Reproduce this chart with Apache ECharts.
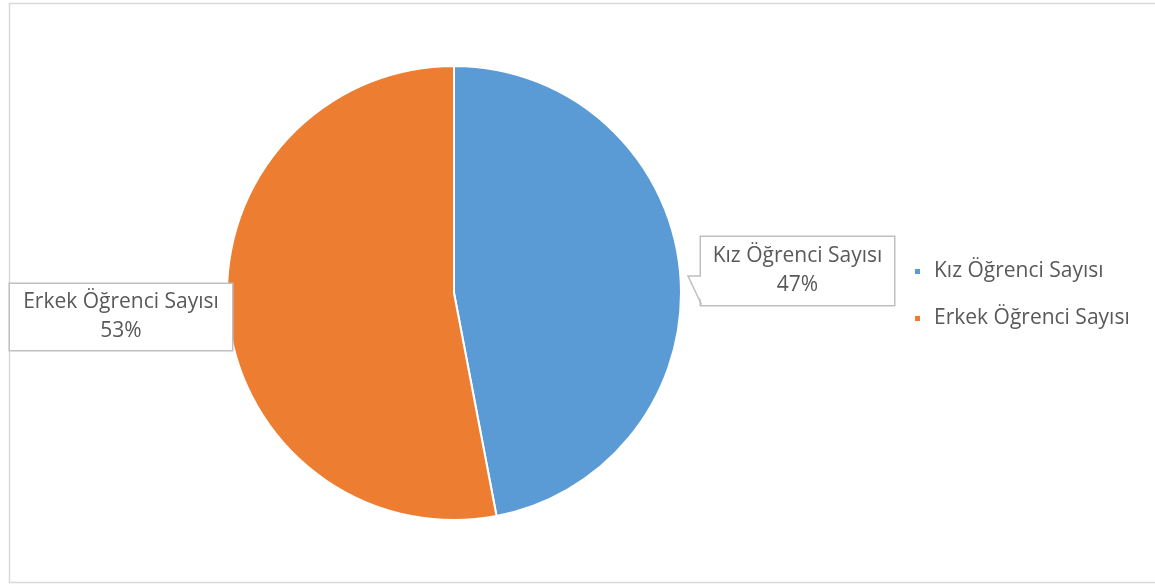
<!DOCTYPE html>
<html>
<head>
<meta charset="utf-8">
<script src="https://cdn.jsdelivr.net/npm/echarts@6/dist/echarts.min.js"></script>
<style>
  html, body { margin: 0; padding: 0; background: #fff; }
  #chart { width: 1155px; height: 584px; }
</style>
</head>
<body>
<div id="chart"></div>
<script>
// Öğrenci dağılımı (kız / erkek)
const categories = ['Kız Öğrenci Sayısı', 'Erkek Öğrenci Sayısı'];
const values = [47, 53];
const colors = ['#5B9BD5', '#ED7D31'];

const FONT = '"Open Sans", "Noto Sans", sans-serif';
const TEXT = '#595959';
const BOX = '#BFBFBF';
const FS = 21;

// callout boxes: centre point, inner width, top / bottom padding
const labelBoxes = [
  { cx: 797.5, cy: 271, width: 193, padTop: 8, padBottom: 2 },
  { cx: 121, cy: 317, width: 222, padTop: 7, padBottom: 1 }
];

const chart = echarts.init(document.getElementById('chart'), null, { renderer: 'canvas' });

chart.setOption({
  animation: false,
  backgroundColor: '#fff',
  color: colors,
  graphic: [
    // chart area frame
    { type: 'rect', shape: { x: 9.5, y: 3.5, width: 1160, height: 579 },
      style: { fill: 'none', stroke: '#D9D9D9', lineWidth: 1.5 }, z: -1 },
    // notch of the first callout, pointing at the pie
    { type: 'polygon',
      shape: { points: [[703, 276], [688, 276], [703, 304]] },
      style: { fill: '#fff', stroke: null }, z: 50 },
    { type: 'polyline',
      shape: { points: [[701, 276], [688, 276], [701.5, 304.5]] },
      style: { fill: null, stroke: BOX, lineWidth: 1.5 }, z: 51 }
  ],
  legend: {
    orient: 'vertical',
    left: 908,
    top: 256,
    icon: 'rect',
    itemWidth: 7,
    itemHeight: 7,
    itemGap: 26,
    textStyle: { fontFamily: FONT, fontSize: FS, lineHeight: 21, color: TEXT, padding: [0, 0, 0, 8] },
    data: categories
  },
  series: [{
    type: 'pie',
    center: [454, 293],
    radius: 227,
    startAngle: 90,
    clockwise: true,
    itemStyle: { borderColor: '#fff', borderWidth: 2 },
    label: {
      show: true,
      formatter: '{b}\n{d}%',
      fontFamily: FONT,
      fontSize: FS,
      lineHeight: 29,
      color: TEXT,
      align: 'center',
      backgroundColor: '#fff',
      borderColor: BOX,
      borderWidth: 1.5
    },
    labelLine: { show: false },
    labelLayout: function (params) {
      const b = labelBoxes[params.dataIndex];
      return { x: b.cx, y: b.cy, align: 'center', verticalAlign: 'middle' };
    },
    data: categories.map((name, i) => ({
      name: name,
      value: values[i],
      label: {
        width: labelBoxes[i].width,
        padding: [labelBoxes[i].padTop, 0, labelBoxes[i].padBottom, 0]
      }
    }))
  }]
});
</script>
</body>
</html>
